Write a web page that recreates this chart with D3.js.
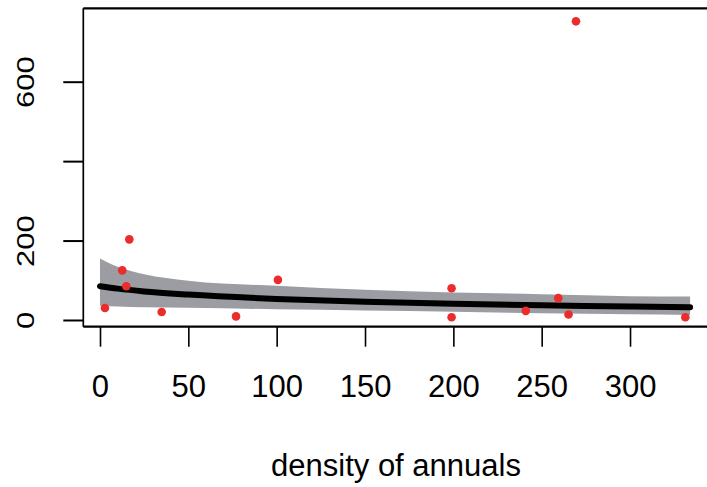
<!DOCTYPE html>
<html>
<head>
<meta charset="utf-8">
<script src="https://cdn.jsdelivr.net/npm/d3@7"></script>
<style>
  body { margin: 0; background: #fff; }
  text { font-family: "Liberation Sans", Arial, sans-serif; fill: #000; }
</style>
</head>
<body>
<div id="chart"></div>
<script>
// data
var pointX = [2.8, 12.6, 14.9, 16.6, 34.9, 77, 100.7, 199, 199, 241, 259.4, 265.2, 269.4, 331.3];
var pointY = [30, 125, 85, 203, 20, 9, 101, 80, 7, 23, 55, 14, 752, 7];

var fitX = [0, 10, 25, 50, 100, 150, 200, 250, 300, 334];
var fitY = [85, 79, 72, 64, 53, 46, 41, 37, 34, 32];
var bandUpper = [155, 134, 115, 99, 86, 76, 69, 65, 60, 59];
var bandLower = [36, 34, 32, 31, 27, 24, 21, 17, 14.5, 12.6];

var xTicks = [0, 50, 100, 150, 200, 250, 300];
var yTicks = [0, 200, 400, 600];
var yTickLabels = ["0", "200", "", "600"];
var xTitle = "density of annuals";

// chart set up
var svgWidth = 707;
var svgHeight = 487;
var plot = { left: 83.3, right: 709, top: 8.3, bottom: 326.7 };

var svg = d3.select("#chart")
  .append("svg")
  .attr("width", svgWidth)
  .attr("height", svgHeight);

svg.append("rect")
  .attr("width", svgWidth)
  .attr("height", svgHeight)
  .attr("fill", "#fff");

var xScale = d3.scaleLinear()
  .domain([-9.45, 344.7])
  .range([plot.left, plot.right]);

var yScale = d3.scaleLinear()
  .domain([-16.9, 784.8])
  .range([plot.bottom, plot.top]);

// confidence band
var band = fitX.map(function(x, i) {
  return { x: x, lo: bandLower[i], hi: bandUpper[i] };
});

svg.append("path")
  .datum(band)
  .attr("fill", "#9c9da2")
  .attr("d", d3.area()
    .x(d => xScale(d.x))
    .y0(d => yScale(d.lo))
    .y1(d => yScale(d.hi))
    .curve(d3.curveMonotoneX));

// fitted line
var fit = fitX.map(function(x, i) { return { x: x, y: fitY[i] }; });

svg.append("path")
  .datum(fit)
  .attr("fill", "none")
  .attr("stroke", "#000")
  .attr("stroke-width", 6)
  .attr("stroke-linecap", "round")
  .attr("d", d3.line()
    .x(d => xScale(d.x))
    .y(d => yScale(d.y))
    .curve(d3.curveMonotoneX));

// points
svg.selectAll(".pt")
  .data(pointX.map((x, i) => ({ x: x, y: pointY[i] })))
  .enter()
  .append("circle")
  .attr("class", "pt")
  .attr("cx", d => xScale(d.x))
  .attr("cy", d => yScale(d.y))
  .attr("r", 4.3)
  .attr("fill", "#ec2b2b");

// box
svg.append("line")
  .attr("x1", plot.left).attr("x2", plot.right)
  .attr("y1", plot.top).attr("y2", plot.top)
  .attr("stroke", "#000").attr("stroke-width", 2.2);
svg.append("line")
  .attr("x1", plot.left).attr("x2", plot.right)
  .attr("y1", plot.bottom).attr("y2", plot.bottom)
  .attr("stroke", "#000").attr("stroke-width", 2.2);
svg.append("line")
  .attr("x1", plot.left).attr("x2", plot.left)
  .attr("y1", plot.top).attr("y2", plot.bottom)
  .attr("stroke", "#000").attr("stroke-width", 1.7);

// x axis
var bottomAxis = d3.axisBottom(xScale)
  .tickValues(xTicks)
  .tickSize(20)
  .tickPadding(28.5)
  .tickFormat(d3.format("d"));

var gx = svg.append("g")
  .attr("transform", `translate(0, ${plot.bottom})`)
  .call(bottomAxis);
gx.select(".domain").remove();
gx.selectAll("line").attr("stroke", "#000").attr("stroke-width", 1.6);
gx.selectAll("text").attr("font-size", 31).attr("fill", "#000")
  .style("font-family", "'Liberation Sans', Arial, sans-serif");

// y axis
var leftAxis = d3.axisLeft(yScale)
  .tickValues(yTicks)
  .tickSize(20)
  .tickFormat((d, i) => yTickLabels[i]);

var gy = svg.append("g")
  .attr("transform", `translate(${plot.left}, 0)`)
  .call(leftAxis);
gy.select(".domain").remove();
gy.selectAll("line").attr("stroke", "#000").attr("stroke-width", 2);
// rotated labels (tick groups already sit at each tick's y)
gy.selectAll("text")
  .attr("font-size", 31)
  .attr("fill", "#000")
  .style("font-family", "'Liberation Sans', Arial, sans-serif")
  .attr("text-anchor", "middle")
  .attr("x", 0)
  .attr("dy", 0)
  .attr("transform", `translate(${33.5 - plot.left}, 0) scale(0.78, 1) rotate(-90)`);

// axis title
svg.append("text")
  .attr("x", 396)
  .attr("y", 475.5)
  .attr("text-anchor", "middle")
  .attr("font-size", 31)
  .text(xTitle);
</script>
</body>
</html>
